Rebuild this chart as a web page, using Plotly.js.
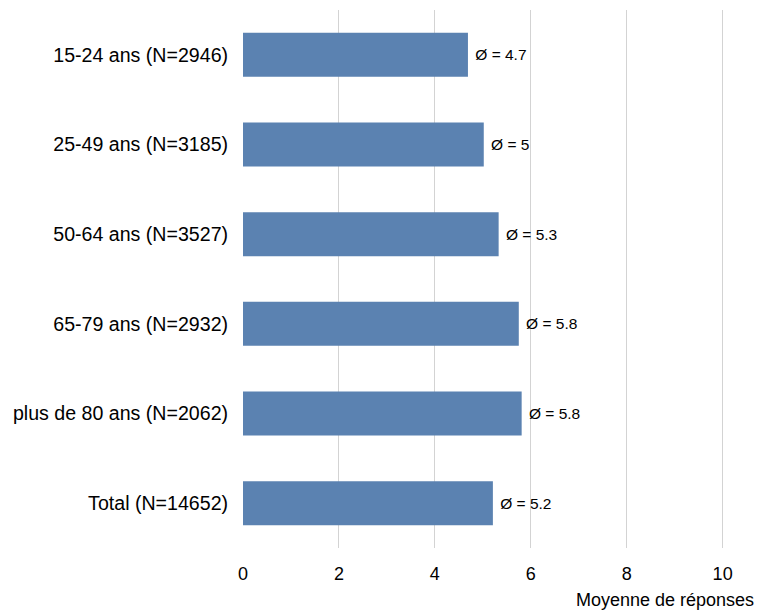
<!DOCTYPE html>
<html>
<head>
<meta charset="utf-8">
<script src="https://cdn.plot.ly/plotly-3.0.1.min.js"></script>
<style>html,body{margin:0;padding:0;background:#fff;}#chart{width:772px;height:613px;}</style>
</head>
<body>
<div id="chart"></div>
<script>
const categories = ["15-24 ans (N=2946)", "25-49 ans (N=3185)", "50-64 ans (N=3527)", "65-79 ans (N=2932)", "plus de 80 ans (N=2062)", "Total (N=14652)"];
const means = [4.69, 5.02, 5.33, 5.75, 5.81, 5.21];
const labels = ["Ø = 4.7", "Ø = 5", "Ø = 5.3", "Ø = 5.8", "Ø = 5.8", "Ø = 5.2"];
const xTicks = [0, 2, 4, 6, 8, 10];

const trace = {
  type: "bar",
  orientation: "h",
  y: categories,
  x: means,
  text: labels.map(t => " " + t),
  textposition: "outside",
  cliponaxis: false,
  textfont: {family: "Liberation Sans, Arial, sans-serif", size: 15.5, color: "#000"},
  marker: {color: "#5b82b1", line: {width: 0}},
  hoverinfo: "skip"
};

const layout = {
  width: 772, height: 613,
  margin: {l: 243, r: 11, t: 10, b: 65},
  paper_bgcolor: "#fff", plot_bgcolor: "#fff",
  font: {family: "Liberation Sans, Arial, sans-serif", size: 18, color: "#000"},
  bargap: 0.51,
  showlegend: false,
  xaxis: {
    range: [0, 10.8],
    tickvals: xTicks,
    ticktext: xTicks.map(String),
    showgrid: true, gridcolor: "#d3d3d3", gridwidth: 1,
    zeroline: false, showline: false,
    ticks: "outside", ticklen: 9, tickcolor: "rgba(0,0,0,0)",
    tickfont: {size: 18}
  },
  yaxis: {
    type: "category",
    categoryorder: "array",
    categoryarray: categories,
    autorange: "reversed",
    showgrid: false, zeroline: false, showline: false,
    ticks: "outside", ticklen: 10, tickcolor: "rgba(0,0,0,0)",
    tickfont: {size: 19.6}
  },
  annotations: [{
    text: "Moyenne de réponses",
    xref: "paper", yref: "paper",
    x: 1.0, y: 0, xanchor: "right", yanchor: "top",
    yshift: -40, xshift: -5,
    showarrow: false,
    font: {size: 18, color: "#000"}
  }]
};

Plotly.newPlot("chart", [trace], layout, {displayModeBar: false, staticPlot: true});
</script>
</body>
</html>
